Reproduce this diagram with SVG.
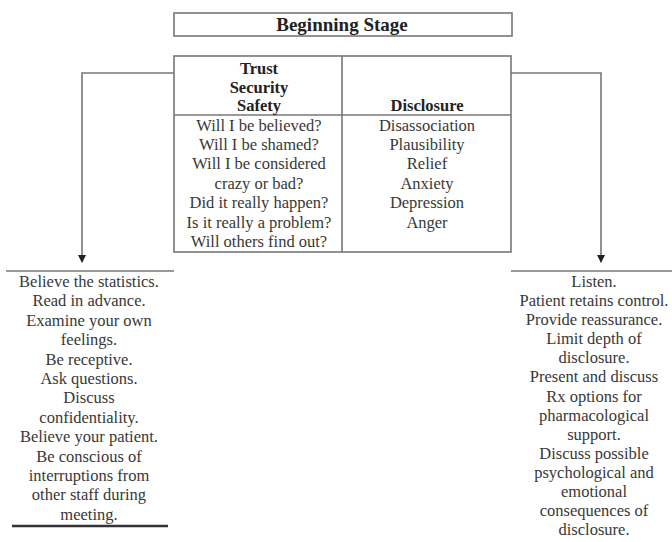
<svg xmlns="http://www.w3.org/2000/svg" width="672" height="542" viewBox="0 0 672 542">
<style>
text{font-family:"Liberation Serif","Times New Roman",serif;fill:#383838;text-anchor:middle;font-size:16.5px}
.b{font-weight:bold;fill:#222}
.t{font-size:19px}
.box{fill:none;stroke:#777;stroke-width:1.6}
.ln{fill:none;stroke:#777;stroke-width:1.6}
</style>
<defs>
<marker id="ah" markerWidth="8" markerHeight="8" refX="7" refY="4" orient="auto" markerUnits="userSpaceOnUse">
<path d="M0,0 L8,4 L0,8 Z" fill="#222"/>
</marker>
</defs>
<g id="title">
<rect class="box" x="174" y="13" width="338" height="23"/>
<text class="b t" x="342" y="30.5">Beginning Stage</text>
</g>
<g id="table">
<rect class="box" x="174" y="56" width="337" height="196"/>
<line class="ln" x1="342" y1="56" x2="342" y2="252"/>
<line class="ln" x1="174" y1="115" x2="511" y2="115"/>
<text class="b" x="259" y="73.5">Trust</text>
<text class="b" x="259" y="92.5">Security</text>
<text class="b" x="259" y="111">Safety</text>
<text class="b" x="427" y="111">Disclosure</text>
<text x="259" y="130.5">Will I be believed?</text>
<text x="259" y="149.9">Will I be shamed?</text>
<text x="259" y="169.3">Will I be considered</text>
<text x="259" y="188.7">crazy or bad?</text>
<text x="259" y="208.1">Did it really happen?</text>
<text x="259" y="227.5">Is it really a problem?</text>
<text x="259" y="246.9">Will others find out?</text>
<text x="427" y="130.5">Disassociation</text>
<text x="427" y="149.9">Plausibility</text>
<text x="427" y="169.3">Relief</text>
<text x="427" y="188.7">Anxiety</text>
<text x="427" y="208.1">Depression</text>
<text x="427" y="227.5">Anger</text>
</g>
<g id="connectors">
<path class="ln" d="M174,73 H82 V262" marker-end="url(#ah)"/>
<path class="ln" d="M511,73 H601 V262" marker-end="url(#ah)"/>
</g>
<g id="left-list">
<line class="ln" x1="6" y1="271" x2="174" y2="271"/>
<text x="89" y="287">Believe the statistics.</text>
<text x="89" y="306.4">Read in advance.</text>
<text x="89" y="325.8">Examine your own</text>
<text x="89" y="345.2">feelings.</text>
<text x="89" y="364.6">Be receptive.</text>
<text x="89" y="384">Ask questions.</text>
<text x="89" y="403.4">Discuss</text>
<text x="89" y="422.8">confidentiality.</text>
<text x="89" y="442.2">Believe your patient.</text>
<text x="89" y="461.6">Be conscious of</text>
<text x="89" y="481">interruptions from</text>
<text x="89" y="500.4">other staff during</text>
<text x="89" y="519.8">meeting.</text>
<line x1="12" y1="526" x2="168" y2="526" stroke="#333" stroke-width="2.5"/>
</g>
<g id="right-list">
<line class="ln" x1="511" y1="271" x2="672" y2="271"/>
<text x="594" y="287">Listen.</text>
<text x="594" y="306.1">Patient retains control.</text>
<text x="594" y="325.2">Provide reassurance.</text>
<text x="594" y="344.2">Limit depth of</text>
<text x="594" y="363.3">disclosure.</text>
<text x="594" y="382.4">Present and discuss</text>
<text x="594" y="401.5">Rx options for</text>
<text x="594" y="420.6">pharmacological</text>
<text x="594" y="439.6">support.</text>
<text x="594" y="458.7">Discuss possible</text>
<text x="594" y="477.8">psychological and</text>
<text x="594" y="496.9">emotional</text>
<text x="594" y="516">consequences of</text>
<text x="594" y="535">disclosure.</text>
</g>
</svg>
